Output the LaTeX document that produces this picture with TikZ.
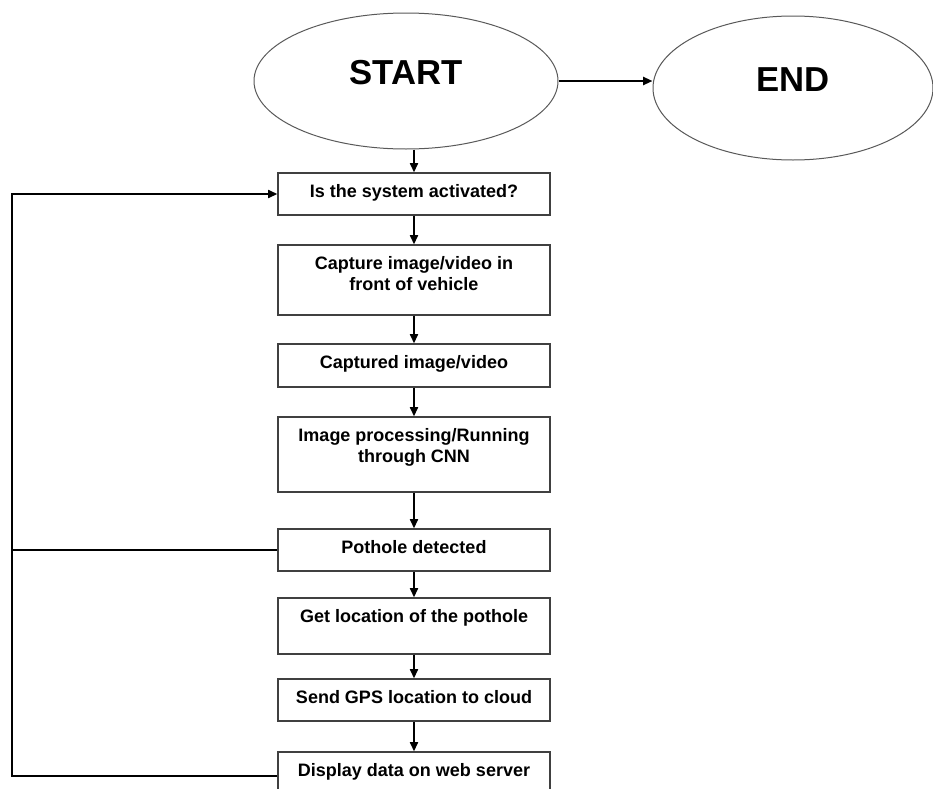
\documentclass[tikz,border=0pt]{standalone}
\usepackage{fontspec}
\setmainfont{Liberation Sans}
\usetikzlibrary{arrows.meta,shapes.geometric}

\begin{document}
\begin{tikzpicture}[x=0.75pt, y=-0.75pt,
    terminal/.style={ellipse, draw=black!65, line width=0.75pt, fill=white, inner sep=0pt},
    termtext/.style={font=\fontsize{26}{30}\selectfont\bfseries, yshift=6pt},
    stepbox/.style={rectangle, draw=black!75, line width=0.9pt, fill=white, minimum width=204pt, inner sep=0pt},
    steptext/.style={anchor=north, inner sep=0pt, yshift=-8.5pt, align=center, font=\fontsize{13.5}{16.2}\selectfont\bfseries},
    flow/.style={line width=1.5pt, -{Triangle[length=7pt, width=6pt]}},
    loopline/.style={line width=1.5pt}]
\useasboundingbox (0, 0) rectangle (933, 789);

\node[terminal, minimum width=228pt, minimum height=102pt, label={[termtext]center:START}] (start) at (406, 81) {}; % start
\node[terminal, minimum width=210pt, minimum height=108pt, label={[termtext]center:END}] (finish) at (793, 88) {}; % end

\node[stepbox, minimum height=31.5pt, label={[steptext]north:Is the system activated?}] (activated) at (414, 194) {};
\node[stepbox, minimum height=52.5pt, label={[steptext]north:Capture image/video in\\front of vehicle}] (capture) at (414, 280) {};
\node[stepbox, minimum height=32.25pt, label={[steptext]north:Captured image/video}] (captured) at (414, 365.5) {};
\node[stepbox, minimum height=56.25pt, label={[steptext]north:Image processing/Running\\through CNN}] (cnn) at (414, 454.5) {};
\node[stepbox, minimum height=31.5pt, label={[steptext]north:Pothole detected}] (pothole) at (414, 550) {};
\node[stepbox, minimum height=42pt, label={[steptext]north:Get location of the pothole}] (location) at (414, 626) {};
\node[stepbox, minimum height=31.5pt, label={[steptext]north:Send GPS location to cloud}] (gps) at (414, 700) {};
\node[stepbox, minimum height=36pt, label={[steptext]north:Display data on web server}] (display) at (414, 776) {};

\coordinate (loopx) at (12, 0); % left return line

\draw[flow] (start.east) -- (start.east -| finish.west); % start to end
\draw[flow] (activated.north |- start.south) -- (activated.north); % start to first step
\draw[flow] (activated) -- (capture);
\draw[flow] (capture) -- (captured);
\draw[flow] (captured) -- (cnn);
\draw[flow] (cnn) -- (pothole);
\draw[flow] (pothole) -- (location);
\draw[flow] (location) -- (gps);
\draw[flow] (gps) -- (display);

\draw[flow] (display.west) -- (display.west -| loopx) |- (activated.west); % back to start check
\draw[loopline] (pothole.west) -- (pothole.west -| loopx); % pothole branch
\end{tikzpicture}
\end{document}
